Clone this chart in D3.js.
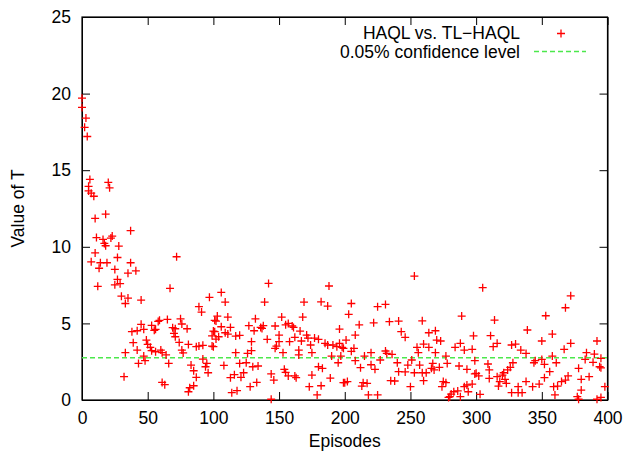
<!DOCTYPE html>
<html>
<head>
<meta charset="utf-8">
<script src="https://cdn.jsdelivr.net/npm/d3@7"></script>
<style>
body { margin: 0; background: #fff; }
#chart text { font-family: "Liberation Sans", Arial, sans-serif; font-size: 17.5px; fill: #000; }
#chart .axis path, #chart .axis line { stroke: #000; }
</style>
</head>
<body>
<svg id="chart" width="625" height="453"></svg>
<script>
// values, one entry per marker (episode, T)
var episodes = [
  0, 0, 3, 2, 4, 6, 5, 5, 7, 9, 20, 21, 10, 18, 37, 11, 16, 23, 22, 17, 18, 28, 10, 27, 72,
  7, 14, 19, 37, 13, 25, 35, 41, 27, 25, 29, 12, 67, 30, 35, 33, 45, 97, 89, 91, 58, 59, 65, 75,
  45, 53, 38, 42, 47, 55, 56, 69, 71, 76, 80, 70, 71, 39, 49, 50, 74, 52, 53, 56, 60, 61, 64,
  76, 77, 81, 87, 89, 92, 99, 99, 33, 42, 47, 48, 43, 66, 92, 95, 94, 83, 85, 87, 32, 61, 63,
  85, 82, 81, 96, 101,
  142, 188, 106, 109, 139, 169, 182, 187, 103, 111, 102, 132, 152, 168, 157, 160, 106, 113, 127,
  136, 138, 147, 155, 161, 196, 100, 101, 104, 102, 100, 109, 111, 117, 120, 131, 137, 141, 150,
  162, 166, 171, 172, 177, 167, 174, 129, 150, 158, 180, 185, 187, 191, 194, 198, 196, 117, 126,
  129, 148, 147, 153, 165, 165, 175, 190, 197, 108, 120, 125, 130, 134, 123, 121, 116, 113, 144,
  146, 154, 155, 157, 162, 163, 175, 180, 183, 189, 128, 133, 118, 114, 173, 179, 182, 144, 199,
  253, 205, 225, 231, 203, 289, 211, 222, 234, 241, 259, 208, 243, 246, 264, 269, 270, 273, 298,
  201, 199, 207, 205, 220, 215, 231, 232, 236, 255, 256, 260, 264, 269, 277, 284, 288, 291, 297,
  195, 208, 212, 220, 223, 227, 240, 241, 246, 248, 251, 253, 257, 259, 262, 267, 266, 268, 272,
  278, 287, 293, 299, 200, 202, 214, 217, 213, 235, 238, 250, 260, 218, 225, 275, 277, 274, 280,
  281, 283, 286, 288, 291, 293, 297, 279,
  305, 372, 368, 314, 353, 339, 358, 311, 350, 392, 316, 313, 327, 330, 334, 338, 372, 367, 384,
  390, 358, 383, 395, 350, 345, 344, 352, 361, 299, 328, 309, 310, 324, 321, 326, 356, 378, 389,
  394, 395, 300, 302, 316, 320, 318, 322, 323, 317, 310, 352, 348, 343, 338, 332, 370, 368, 365,
  362, 359, 380, 386, 380, 294, 303, 327, 332, 335, 360, 377, 378, 392, 395, 398
];
var tValues = [
  19.7, 19.1, 18.4, 17.8, 17.2, 14.4, 13.95, 13.65, 13.5, 13.3, 14.2, 13.85, 11.85, 12.13, 11.05,
  10.6, 10.48, 10.7, 10.57, 10.22, 10.07, 10.05, 9.6, 9.3, 9.35,
  9.02, 8.96, 8.96, 8.96, 8.6, 8.52, 8.28, 8.43, 7.87, 7.52, 7.59, 7.42, 7.29, 6.78, 6.65, 6.3,
  6.52, 6.7, 6.09, 5.74, 5.13, 5.2, 5.26, 5.3,
  4.94, 4.87, 4.46, 4.52, 4.61, 4.55, 4.61, 4.72, 4.65, 4.96, 4.65, 4.35, 4.13, 3.74, 3.91, 3.63,
  3.76, 3.44, 3.22, 3.15, 3.26, 3.09, 2.94,
  3.26, 3.07, 3.63, 3.48, 3.52, 3.57, 3.52, 4.19, 3.09, 3.26, 2.87, 2.57, 2.39, 2.39, 2.67, 2.39,
  2.17, 2.28, 1.91, 1.48, 1.52, 1.15, 1.0,
  0.93, 0.8, 0.54, 1.78, 5.2,
  7.61, 7.44, 7.02, 6.39, 6.39, 6.39, 6.41, 6.13, 5.48, 5.41, 5.15, 5.3, 5.41, 5.41, 5.0, 4.83,
  4.78, 4.74, 4.85,
  4.74, 4.85, 4.83, 4.91, 4.74, 4.63, 4.5, 4.46, 4.13, 3.98, 3.48, 4.39, 4.3, 4.17, 4.22, 4.52,
  4.67, 3.96, 4.24,
  4.09, 4.5, 4.24, 4.04, 4.04, 3.85, 3.59, 3.81, 3.81, 3.81, 3.96, 3.7, 3.59, 3.59, 3.48, 3.44,
  3.7, 3.09, 3.04,
  3.22, 3.52, 3.37, 3.09, 3.26, 2.94, 3.09, 2.87, 2.87, 2.26, 2.39, 2.43, 2.17, 2.22, 1.78, 1.48,
  1.65, 1.46, 1.7,
  1.3, 2.0, 1.8, 1.57, 1.57, 1.46, 1.63, 2.17, 2.07, 1.43, 0.87, 1.15, 0.61, 0.48, 0.87, 0.33,
  0.93, 0.05, 1.13,
  8.09, 6.3, 6.09, 6.24, 5.59, 5.48, 4.91, 5.04, 5.11, 5.15, 5.17, 4.24, 4.46, 4.09, 4.39, 4.52,
  3.91, 3.85, 4.19,
  3.91, 3.37, 3.37, 3.18, 3.09, 2.87, 3.2, 3.04, 2.98, 3.44, 3.09, 3.65, 3.44, 3.09, 2.87, 3.44,
  3.7, 3.26, 3.31,
  2.43, 2.57, 2.11, 2.3, 2.0, 2.61, 2.43, 1.85, 1.83, 2.28, 2.61, 1.78, 2.28, 1.78, 1.78, 2.39,
  2.07, 1.96, 2.13,
  2.39, 2.22, 2.0, 1.7, 1.13, 1.2, 1.13, 1.09, 0.91, 1.26, 1.24, 0.87, 1.26, 0.33, 0.33, 1.2, 1.13,
  0.87, 0.22,
  0.39, 0.54, 0.59, 0.22, 0.87, 0.98, 1.04, 0.17,
  7.33, 6.8, 6.02, 5.22, 5.5, 4.57, 4.3, 4.2, 3.85, 3.85, 3.7, 3.48, 3.59, 3.65, 3.26, 3.04, 3.7,
  3.31, 3.09,
  3.0, 2.87, 2.65, 2.72, 2.65, 2.57, 2.43, 2.33, 2.43, 2.57, 2.43, 2.35, 1.96, 1.96, 1.78, 2.13,
  1.85, 2.07, 2.46,
  2.17, 2.1, 1.74, 1.57, 1.52, 1.63, 1.2, 1.35, 1.09, 0.91, 1.41, 1.46, 1.04, 0.87, 1.2, 0.87, 1.57,
  1.3, 1.2,
  0.91, 0.87, 1.35, 1.52, 0.65, 0.54, 0.37, 0.48, 0.48, 0.48, 0.33, 0.22, 0.05, 0.05, 0.17, 0.87
];
var confidenceLevel = 2.76;
var xTicks = [0, 50, 100, 150, 200, 250, 300, 350, 400];
var yTicks = [0, 5, 10, 15, 20, 25];
var seriesLabels = ["HAQL vs. TL\u2212HAQL", "0.05% confidence level"];

var svg = d3.select("#chart");
var margin = { top: 17, right: 17.5, bottom: 53, left: 82 };
var width = 625 - margin.left - margin.right;
var height = 453 - margin.top - margin.bottom;

var x = d3.scaleLinear().domain([0, 400]).range([0, width]);
var y = d3.scaleLinear().domain([0, 25]).range([height, 0]);

var g = svg.append("g").attr("transform", "translate(" + margin.left + "," + margin.top + ")");

// gnuplot style: inward ticks, mirrored on top and right
g.append("g").attr("class", "axis")
  .attr("transform", "translate(0," + height + ")")
  .call(d3.axisBottom(x).tickValues(xTicks).tickSizeInner(-8).tickSizeOuter(0).tickPadding(12));
g.append("g").attr("class", "axis")
  .call(d3.axisTop(x).tickValues(xTicks).tickSizeInner(-8).tickSizeOuter(0).tickFormat(""));
g.append("g").attr("class", "axis")
  .call(d3.axisLeft(y).tickValues(yTicks).tickSizeInner(-8).tickSizeOuter(0).tickPadding(11));
g.append("g").attr("class", "axis")
  .attr("transform", "translate(" + width + ",0)")
  .call(d3.axisRight(y).tickValues(yTicks).tickSizeInner(-8).tickSizeOuter(0).tickFormat(""));

g.selectAll(".axis text").style("font-size", "17.5px").style("font-family", "Liberation Sans, Arial, sans-serif");
g.append("rect").attr("width", width).attr("height", height)
  .attr("fill", "none").attr("stroke", "#000").attr("stroke-width", 1.2);

var plus = "M-4,0H4M0,-4V4";

// confidence line
g.append("line")
  .attr("x1", 0).attr("x2", width)
  .attr("y1", y(confidenceLevel)).attr("y2", y(confidenceLevel))
  .attr("stroke", "#4ce84c").attr("stroke-width", 1.5).attr("stroke-dasharray", "5,3");

g.selectAll(".pt").data(d3.range(episodes.length)).enter().append("path")
  .attr("class", "pt")
  .attr("d", plus)
  .attr("transform", function(i) { return "translate(" + x(episodes[i]) + "," + y(tValues[i]) + ")"; })
  .attr("fill", "none").attr("stroke", "#ff0000").attr("stroke-width", 1.3);

// legend
var legend = svg.append("g");
legend.append("text").attr("x", 520).attr("y", 38.5).attr("text-anchor", "end").text(seriesLabels[0]);
legend.append("path").attr("d", plus).attr("transform", "translate(561,33.5)")
  .attr("fill", "none").attr("stroke", "#ff0000").attr("stroke-width", 1.3);
legend.append("text").attr("x", 520).attr("y", 57.5).attr("text-anchor", "end").text(seriesLabels[1]);
legend.append("line").attr("x1", 534).attr("x2", 586).attr("y1", 51.5).attr("y2", 51.5)
  .attr("stroke", "#4ce84c").attr("stroke-width", 1.5).attr("stroke-dasharray", "5,3");

// axis titles
svg.append("text").attr("x", margin.left + width / 2).attr("y", 447).attr("text-anchor", "middle").text("Episodes");
svg.append("text").attr("transform", "translate(24," + (margin.top + height / 2) + ") rotate(-90)")
  .attr("text-anchor", "middle").text("Value of T");
</script>
</body>
</html>
